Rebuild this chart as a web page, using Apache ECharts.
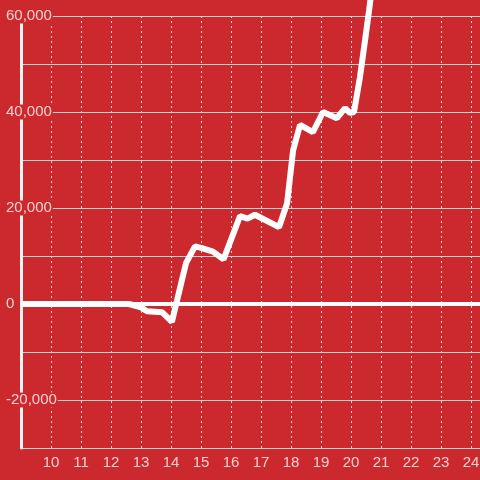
<!DOCTYPE html>
<html>
<head>
<meta charset="utf-8">
<script src="https://cdn.jsdelivr.net/npm/echarts@6/dist/echarts.min.js"></script>
<style>
  html, body { margin: 0; padding: 0; background: #cc292e; }
  #main { width: 480px; height: 480px; }
</style>
</head>
<body>
<div id="main"></div>
<script>
var dom = document.getElementById('main');
var myChart = echarts.init(dom);

// x positions and values
var xs = [9, 12.6, 13.0, 13.2, 13.7, 14.03, 14.5, 14.8, 15.0, 15.4, 15.75, 16.3, 16.55, 16.8, 17.6, 17.87, 18.07, 18.3, 18.73, 19.07, 19.53, 19.8, 19.97, 20.1, 20.3, 20.47, 20.6, 20.8];
var ys = [0, 0, -700, -1500, -1700, -3700, 8500, 12000, 11700, 10900, 9300, 18300, 17800, 18600, 16000, 21000, 32000, 37300, 35800, 40000, 38700, 40800, 39800, 40000, 47300, 55000, 61000, 71000];
var xTicks = [10, 11, 12, 13, 14, 15, 16, 17, 18, 19, 20, 21, 22, 23, 24];
var yLabels = [60000, 40000, 20000, 0, -20000];

var points = xs.map(function (x, i) { return [x, ys[i]]; });

var option = {
  backgroundColor: '#cc292e',
  animation: false,
  grid: { left: 21, right: 0, top: 16, bottom: 32, outerBoundsMode: 'none' },
  xAxis: {
    type: 'value',
    min: 9,
    max: 24.3,
    interval: 1,
    axisLine: { show: false },
    axisTick: { show: false },
    axisLabel: {
      color: '#f5d0d0',
      fontSize: 15,
      fontFamily: 'Liberation Sans',
      margin: 7,
      showMinLabel: false,
      formatter: function (v) { return xTicks.indexOf(v) >= 0 ? String(v) : ''; }
    },
    splitLine: { show: true, lineStyle: { color: '#d8d8d8', width: 1, type: [2, 3] } }
  },
  yAxis: {
    type: 'value',
    min: -30000,
    max: 60000,
    interval: 10000,
    axisLine: { show: true, lineStyle: { color: '#f2f2f2', width: 3 } },
    axisTick: { show: false },
    axisLabel: {
      color: '#f5d0d0',
      fontSize: 15,
      fontFamily: 'Liberation Sans',
      align: 'left',
      margin: 16,
      backgroundColor: '#cc292e',
      padding: [0, 1, 0, 1],
      formatter: function (v) {
        return yLabels.indexOf(v) >= 0 ? v.toLocaleString('en-US') : '';
      }
    },
    splitLine: { show: true, lineStyle: { color: '#d0d0d0', width: 1 } }
  },
  series: [
    {
      type: 'line',
      data: points,
      clip: false,
      showSymbol: false,
      lineStyle: { color: '#ffffff', width: 6 },
      markLine: {
        silent: true,
        symbol: 'none',
        label: { show: false },
        lineStyle: { color: '#ffffff', width: 4, type: 'solid' },
        data: [{ yAxis: 0 }]
      }
    }
  ]
};

window.onresize = function () {
  myChart.resize();
};

if (option && typeof option === 'object') {
  myChart.setOption(option);
}
</script>
</body>
</html>
